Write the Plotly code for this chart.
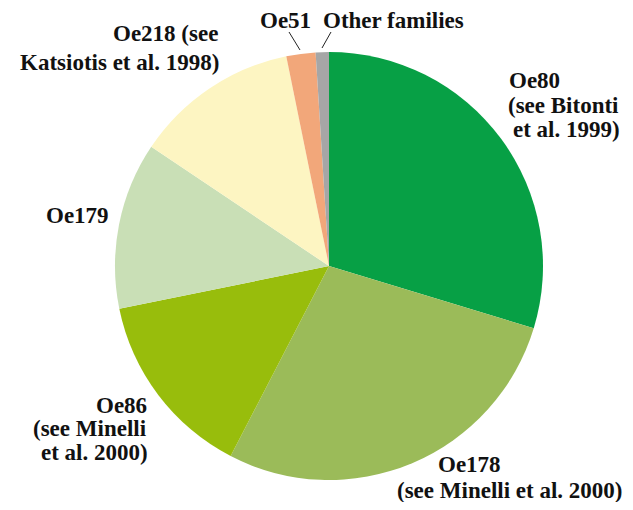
import plotly.graph_objects as go

# page body has an 8px margin, so the figure is drawn slightly smaller
OFF = 8
W, H = 633 - 2 * OFF, 510 - 2 * OFF

families = ["Oe80", "Oe178", "Oe86", "Oe179", "Oe218", "Oe51", "Other families"]
shares = [29.7, 27.9, 14.2, 12.6, 12.4, 2.2, 1.0]
colors = ["#07a045", "#9bbb59", "#98bd0c", "#c9dfb6", "#fdf5c2", "#f2a77a", "#a6a6a6"]

# label lines: text, x, y (picture pixels), anchor
label_lines = [
    ("Oe80", 508, 80, "left"),
    ("(see Bitonti", 507, 105, "left"),
    ("et al. 1999)", 512, 129, "left"),
    ("Oe178", 469, 464, "center"),
    ("(see Minelli et al. 2000)", 509, 490, "center"),
    ("Oe86", 148, 405, "right"),
    ("(see Minelli", 148, 428, "right"),
    ("et al. 2000)", 149, 452, "right"),
    ("Oe179", 77, 215, "center"),
    ("Oe218 (see", 219, 34, "right"),
    ("Katsiotis et al. 1998)", 220, 62, "right"),
    ("Oe51", 285, 21, "center"),
    ("Other families", 322, 21, "left"),
]
leaders = [((289, 32), (300, 50)), ((331, 32), (322, 48))]


def px(x):
    return (x - OFF) / W


def py(y):
    return 1 - (y - OFF) / H


cx, cy, r = 329, 266, 214

fig = go.Figure(go.Pie(
    labels=families,
    values=shares,
    sort=False,
    direction="clockwise",
    rotation=0,
    marker=dict(colors=colors, line=dict(width=0)),
    textinfo="none",
    hoverinfo="label+percent",
    showlegend=False,
    domain=dict(x=[px(cx - r), px(cx + r)], y=[py(cy + r), py(cy - r)]),
))

font = dict(family="Liberation Serif, Times New Roman, serif", size=23, color="#111111")

for txt, x, y, anchor in label_lines:
    fig.add_annotation(x=px(x), y=py(y), xref="paper", yref="paper", text="<b>" + txt + "</b>",
                       showarrow=False, xanchor=anchor, yanchor="middle", font=font, borderpad=0)

for (x0, y0), (x1, y1) in leaders:
    fig.add_shape(type="line", xref="paper", yref="paper",
                  x0=px(x0), y0=py(y0), x1=px(x1), y1=py(y1),
                  line=dict(color="#222222", width=1))

fig.update_layout(width=W, height=H, margin=dict(l=0, r=0, t=0, b=0),
                  paper_bgcolor="white", plot_bgcolor="white")

fig.write_html("out.html")
